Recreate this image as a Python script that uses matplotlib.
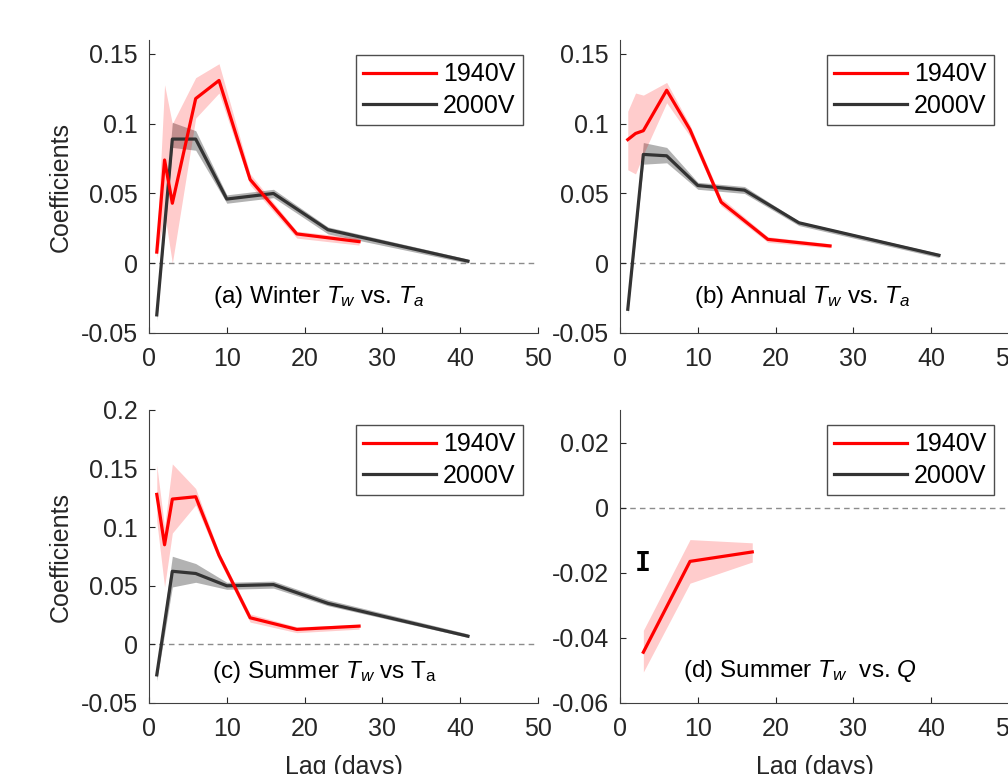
import matplotlib
matplotlib.use("Agg")
import matplotlib.pyplot as plt
from matplotlib.ticker import FuncFormatter

plt.rcParams['font.family'] = ['Liberation Sans', 'DejaVu Sans']
plt.rcParams['mathtext.fontset'] = 'custom'
plt.rcParams['mathtext.rm'] = 'Liberation Sans'
plt.rcParams['mathtext.it'] = 'Liberation Sans:italic'
plt.rcParams['axes.unicode_minus'] = False

# lags (days)
lag_1940 = [1, 2, 3, 6, 9, 13, 19, 27]
lag_2000 = [1, 3, 6, 10, 16, 23, 41]
lag_q_1940 = [3, 9, 17]

# (a) winter Tw vs Ta
a_1940 = [0.008, 0.074, 0.043, 0.118, 0.131, 0.060, 0.021, 0.0155]
a_1940_lo = [0.004, 0.036, 0.0, 0.104, 0.122, 0.056, 0.018, 0.013]
a_1940_hi = [0.014, 0.128, 0.100, 0.133, 0.143, 0.064, 0.023, 0.018]
a_2000 = [-0.037, 0.089, 0.089, 0.046, 0.050, 0.024, 0.0015]
a_2000_lo = [-0.041, 0.083, 0.081, 0.043, 0.047, 0.021, 0.0]
a_2000_hi = [-0.033, 0.101, 0.095, 0.049, 0.053, 0.026, 0.003]

# (b) annual Tw vs Ta
b_1940 = [0.0886, 0.093, 0.095, 0.124, 0.0957, 0.0438, 0.0171, 0.0124]
b_1940_lo = [0.067, 0.064, 0.078, 0.115, 0.091, 0.041, 0.015, 0.011]
b_1940_hi = [0.109, 0.122, 0.1205, 0.1296, 0.099, 0.047, 0.019, 0.014]
b_2000 = [-0.033, 0.078, 0.077, 0.0557, 0.0524, 0.029, 0.0057]
b_2000_lo = [-0.036, 0.071, 0.072, 0.053, 0.050, 0.027, 0.004]
b_2000_hi = [-0.030, 0.0865, 0.083, 0.058, 0.055, 0.030, 0.007]

# (c) summer Tw vs Ta
c_1940 = [0.128, 0.085, 0.124, 0.126, 0.076, 0.0227, 0.0128, 0.0156]
c_1940_lo = [0.105, 0.049, 0.095, 0.119, 0.072, 0.019, 0.010, 0.013]
c_1940_hi = [0.153, 0.100, 0.154, 0.133, 0.079, 0.026, 0.015, 0.017]
c_2000 = [-0.026, 0.0624, 0.0605, 0.050, 0.051, 0.035, 0.007]
c_2000_lo = [-0.031, 0.049, 0.053, 0.047, 0.048, 0.033, 0.006]
c_2000_hi = [-0.021, 0.0752, 0.069, 0.053, 0.054, 0.038, 0.009]

# (d) summer Tw vs Q
d_1940 = [-0.0444, -0.0165, -0.0136]
d_1940_lo = [-0.0505, -0.0232, -0.0167]
d_1940_hi = [-0.0377, -0.0098, -0.0108]

RED = '#ff0000'
DARK = '#333333'
FS = 18

fig = plt.figure(figsize=(10.08, 7.74), dpi=100)
w, h = 389 / 1008, 293 / 774
ax_a = fig.add_axes([149 / 1008, 1 - 333 / 774, w, h])
ax_b = fig.add_axes([620 / 1008, 1 - 333 / 774, w, h])
ax_c = fig.add_axes([149 / 1008, 1 - 703 / 774, w, h])
ax_d = fig.add_axes([620 / 1008, 1 - 703 / 774, w, h])


def draw(ax, x1, y1, lo1, hi1, x2, y2, lo2, hi2):
    ax.axhline(0, color='0.55', ls='--', lw=1, dashes=(4, 3), zorder=1)
    if x2:
        ax.fill_between(x2, lo2, hi2, color='0.45', alpha=0.55, lw=0, zorder=2)
    ax.fill_between(x1, lo1, hi1, color=RED, alpha=0.2, lw=0, zorder=2)
    ax.plot(x2, y2, color=DARK, lw=2.3, label='2000V', zorder=3)
    ax.plot(x1, y1, color=RED, lw=2.3, label='1940V', zorder=4)
    h_, l_ = ax.get_legend_handles_labels()
    ax.legend(h_[::-1], l_[::-1], loc='upper right', bbox_to_anchor=(0.961, 0.949),
              borderaxespad=0, fancybox=False, edgecolor='0.3', framealpha=1,
              fontsize=FS, handlelength=2.9, handletextpad=0.28,
              borderpad=0.3, labelspacing=0.3)
    ax.set_xlim(0, 50)
    ax.set_xticks([0, 10, 20, 30, 40, 50])
    for s in ['top', 'right']:
        ax.spines[s].set_visible(False)
    for s in ['left', 'bottom']:
        ax.spines[s].set_color('0.25')
    ax.tick_params(direction='in', length=4, labelsize=FS, colors='0.15')
    ax.tick_params(axis='x', pad=10)
    ax.tick_params(axis='y', pad=8)
    ax.yaxis.set_major_formatter(FuncFormatter(lambda v, p: '%g' % round(v, 4)))


draw(ax_a, lag_1940, a_1940, a_1940_lo, a_1940_hi, lag_2000, a_2000, a_2000_lo, a_2000_hi)
draw(ax_b, lag_1940, b_1940, b_1940_lo, b_1940_hi, lag_2000, b_2000, b_2000_lo, b_2000_hi)
draw(ax_c, lag_1940, c_1940, c_1940_lo, c_1940_hi, lag_2000, c_2000, c_2000_lo, c_2000_hi)
draw(ax_d, lag_q_1940, d_1940, d_1940_lo, d_1940_hi, [], [], [], [])

for ax in (ax_a, ax_b):
    ax.set_ylim(-0.05, 0.16)
    ax.set_yticks([-0.05, 0, 0.05, 0.1, 0.15])
ax_c.set_ylim(-0.05, 0.2)
ax_c.set_yticks([-0.05, 0, 0.05, 0.1, 0.15, 0.2])
ax_d.set_ylim(-0.06, 0.03)
ax_d.set_yticks([-0.06, -0.04, -0.02, 0, 0.02])

PFS = 17.5
ax_a.text(21.8, -0.0284, r'(a) Winter $T_w$ vs. $T_a$', fontsize=PFS, ha='center', va='baseline')
ax_b.text(23.4, -0.0284, r'(b) Annual $T_w$ vs. $T_a$', fontsize=PFS, ha='center', va='baseline')
ax_c.text(22.6, -0.029, r'(c) Summer $T_w$ vs T$_{\rm a}$', fontsize=PFS, ha='center', va='baseline')
ax_d.text(23.1, -0.052, r'(d) Summer $T_w$  vs. $Q$', fontsize=PFS, ha='center', va='baseline')
ax_d.text(2.9, -0.0172, 'I', fontsize=19, fontweight='bold', family='DejaVu Sans Mono',
          ha='center', va='center')

for ax in (ax_a, ax_c):
    ax.set_ylabel('Coefficients', fontsize=FS, color='0.15', labelpad=6)
for ax in (ax_c, ax_d):
    ax.set_xlabel('Lag (days)', fontsize=FS, color='0.15', labelpad=10)

fig.savefig('out.png', dpi=100)
